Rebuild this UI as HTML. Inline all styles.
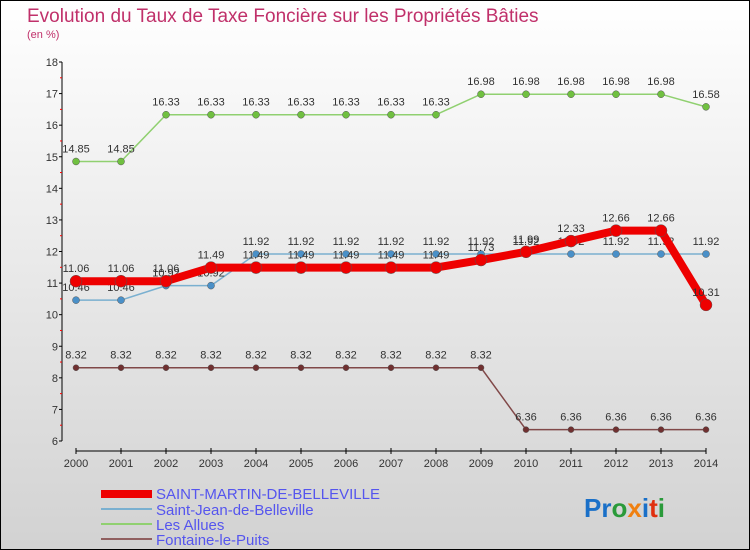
<!DOCTYPE html>
<html><head><meta charset="utf-8"><style>
body{margin:0}
#c{position:relative;width:748px;height:548px;border:1px solid #000;background:linear-gradient(#ffffff,#d2d2d2);font-family:"Liberation Sans",sans-serif;overflow:hidden}
svg text{font-family:"Liberation Sans",sans-serif}
</style></head><body>
<div id="c">
<svg id="s" width="748" height="548" xmlns="http://www.w3.org/2000/svg">
<text x="26" y="21" font-size="19" fill="#c0306a">Evolution du Taux de Taxe Foncière sur les Propriétés Bâties</text>
<text x="26" y="37" font-size="11" fill="#c0306a">(en %)</text>
<g id="axes"></g><g id="series"></g>
<g>
<rect x="100" y="489" width="51" height="8" fill="#e00"/>
<text x="155" y="498" font-size="15" fill="#5555ee">SAINT-MARTIN-DE-BELLEVILLE</text>
<rect x="100" y="507" width="51" height="2" fill="#7ab0d0"/>
<text x="155" y="514" font-size="15" fill="#5555ee">Saint-Jean-de-Belleville</text>
<rect x="100" y="522" width="51" height="2" fill="#90d070"/>
<text x="155" y="529" font-size="15" fill="#5555ee">Les Allues</text>
<rect x="100" y="537" width="51" height="2" fill="#906060"/>
<text x="155" y="544" font-size="15" fill="#5555ee">Fontaine-le-Puits</text>
</g>
<text x="583" y="516" font-size="26" font-weight="bold"><tspan fill="#1a70c8">Pr</tspan><tspan fill="#2a9a3a">o</tspan><tspan fill="#f08010">x</tspan><tspan fill="#1a70c8">i</tspan><tspan fill="#e03010">t</tspan><tspan fill="#2a9a3a">i</tspan></text>
</svg></div>
<script>
const years=[2000,2001,2002,2003,2004,2005,2006,2007,2008,2009,2010,2011,2012,2013,2014];
const saintMartin=[11.06,11.06,11.06,11.49,11.49,11.49,11.49,11.49,11.49,11.73,11.99,12.33,12.66,12.66,10.31];
const saintJean=[10.46,10.46,10.92,10.92,11.92,11.92,11.92,11.92,11.92,11.92,11.92,11.92,11.92,11.92,11.92];
const lesAllues=[14.85,14.85,16.33,16.33,16.33,16.33,16.33,16.33,16.33,16.98,16.98,16.98,16.98,16.98,16.58];
const fontaine=[8.32,8.32,8.32,8.32,8.32,8.32,8.32,8.32,8.32,8.32,6.36,6.36,6.36,6.36,6.36];
const yTicks=[6,7,8,9,10,11,12,13,14,15,16,17,18];
const NS="http://www.w3.org/2000/svg";
const X=i=>75+i*45, Y=v=>440-(v-6)*(379/12);
function mk(t,a,p){const e=document.createElementNS(NS,t);for(const k in a)e.setAttribute(k,a[k]);p.appendChild(e);return e;}
const ax=document.getElementById('axes'), sg=document.getElementById('series');
const yl=mk('line',{x1:61,y1:Y(18),x2:61,y2:Y(6),stroke:'#000'},ax);


yTicks.forEach(v=>{
 mk('line',{x1:58,x2:61,y1:Y(v),y2:Y(v),stroke:'#000'},ax);
 if(v<18) mk('line',{x1:59,x2:61,y1:Y(v+0.5),y2:Y(v+0.5),stroke:'#f00'},ax);
 const t=mk('text',{x:57,y:Y(v)+4,'font-size':11,'text-anchor':'end',fill:'#333'},ax);t.textContent=v;
 
 
});
const xl=mk('line',{x1:X(0),y1:450,x2:X(14),y2:450,stroke:'#000'},ax);


years.forEach((y,i)=>{
 mk('line',{x1:X(i),x2:X(i),y1:447,y2:453,stroke:'#000'},ax);
 const t=mk('text',{x:X(i),y:466,'font-size':11,'text-anchor':'middle',fill:'#333'},ax);t.textContent=y;
 
 
});
function series(d,col,dot,w,r,name){
 const g=mk('g',{},sg);
 
 
 mk('polyline',{points:d.map((v,i)=>X(i)+','+Y(v)).join(' '),fill:'none',stroke:col,'stroke-width':w,'stroke-linejoin':'round'},g);
 d.forEach((v,i)=>{
  const c=mk('circle',{cx:X(i),cy:Y(v),r:r,fill:dot,stroke:'#555','stroke-width':0.5},g);
  
  
  const t=mk('text',{x:X(i),y:Y(v)-9,'font-size':11,'text-anchor':'middle',fill:'#333'},g);t.textContent=v;
  
  
 });
}
series(fontaine,'#804848','#703030',1.5,3,'series-fontaine');
series(lesAllues,'#90d070','#70c040',1.5,3.5,'series-les-allues');
series(saintJean,'#7ab0d0','#4a90c8',1.5,3.5,'series-saint-jean');
series(saintMartin,'#ee0000','#ee0000',8,6,'series-saint-martin');
</script>
</body></html>
